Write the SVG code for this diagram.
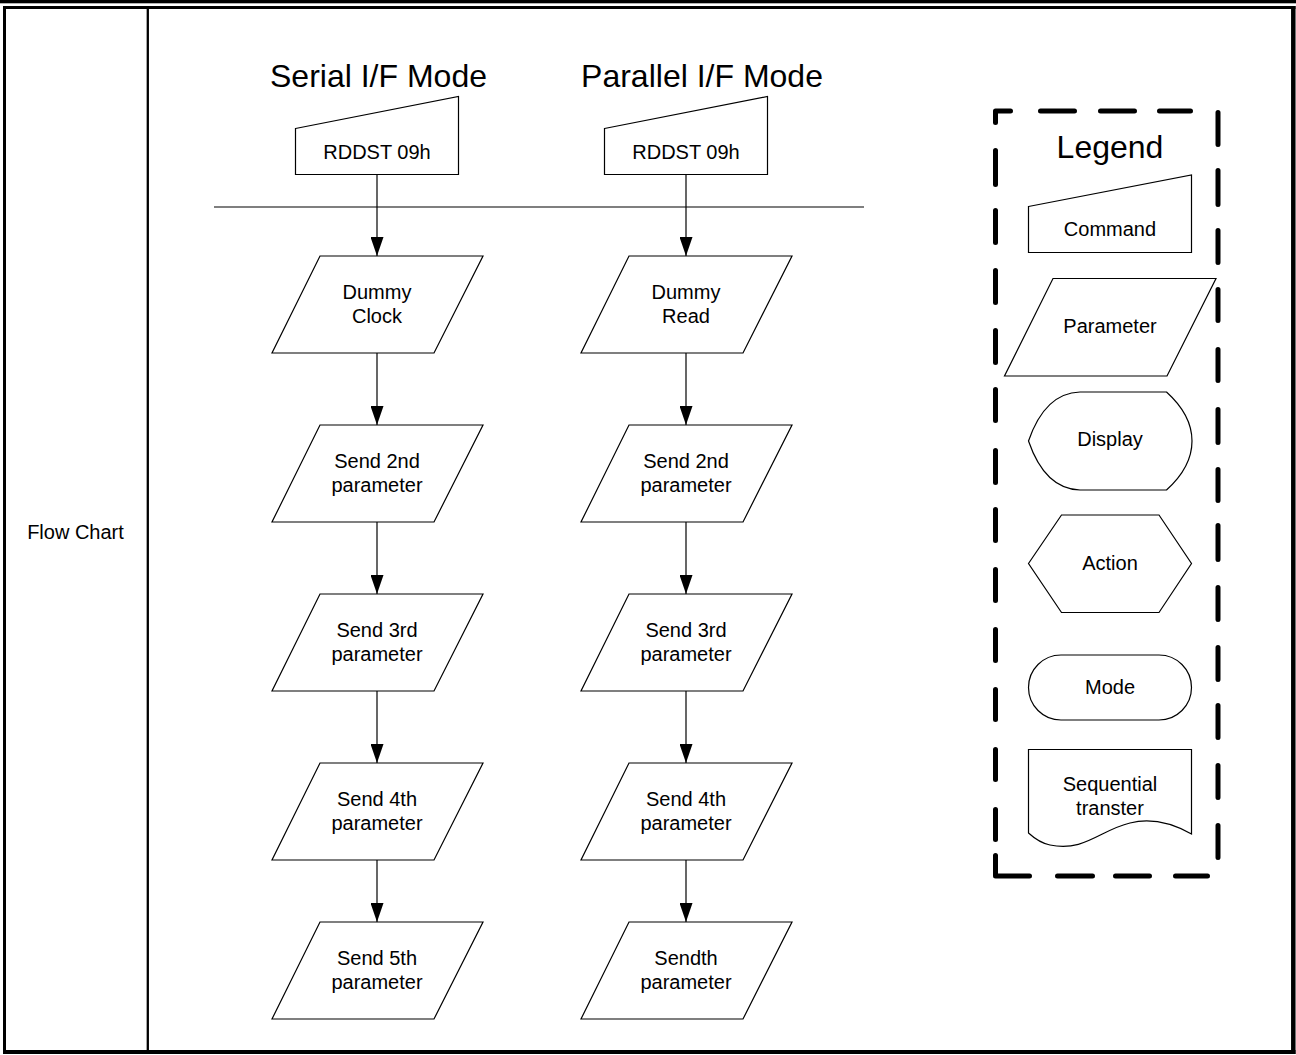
<svg xmlns="http://www.w3.org/2000/svg" width="1296" height="1055" viewBox="0 0 1296 1055">
<style>
.t{font-family:"Liberation Sans",Arial,sans-serif;font-size:20px;fill:#000;text-anchor:middle}
.h{font-family:"Liberation Sans",Arial,sans-serif;font-size:32px;fill:#000;text-anchor:middle}
.s{fill:#fff;stroke:#000;stroke-width:1.2}
.c{fill:none;stroke:#000;stroke-width:1.2}
</style>
<defs>
<marker id="ah" markerUnits="userSpaceOnUse" markerWidth="19" markerHeight="13" refX="19" refY="6.5" orient="auto">
<path d="M0,0 L19,6.5 L0,13 Z" fill="#000"/>
</marker>
</defs>
<rect width="1296" height="1055" fill="#fff"/>
<g id="frame">
<rect x="0" y="0" width="1296" height="3.3" fill="#000"/>
<line x1="4.5" y1="6" x2="4.5" y2="1054" stroke="#000" stroke-width="3"/>
<line x1="3" y1="7.6" x2="1295.5" y2="7.6" stroke="#000" stroke-width="3"/>
<line x1="1293.3" y1="6" x2="1293.3" y2="1054" stroke="#000" stroke-width="4.5"/>
<line x1="3" y1="1052" x2="1295.5" y2="1052" stroke="#000" stroke-width="4"/>
<line x1="147.8" y1="7" x2="147.8" y2="1052" stroke="#000" stroke-width="2.3"/>
<text class="t" x="75.5" y="539">Flow Chart</text>
</g>
<g id="titles">
<text class="h" x="378.5" y="87">Serial I/F Mode</text>
<text class="h" x="702" y="87">Parallel I/F Mode</text>
</g>
<g id="connectors">
<line class="c" x1="214" y1="207" x2="864" y2="207"/>
<line class="c" x1="377" y1="174.5" x2="377" y2="256" marker-end="url(#ah)"/>
<line class="c" x1="377" y1="353" x2="377" y2="425" marker-end="url(#ah)"/>
<line class="c" x1="377" y1="522" x2="377" y2="594" marker-end="url(#ah)"/>
<line class="c" x1="377" y1="691" x2="377" y2="763" marker-end="url(#ah)"/>
<line class="c" x1="377" y1="860" x2="377" y2="922" marker-end="url(#ah)"/>
<line class="c" x1="686" y1="174.5" x2="686" y2="256" marker-end="url(#ah)"/>
<line class="c" x1="686" y1="353" x2="686" y2="425" marker-end="url(#ah)"/>
<line class="c" x1="686" y1="522" x2="686" y2="594" marker-end="url(#ah)"/>
<line class="c" x1="686" y1="691" x2="686" y2="763" marker-end="url(#ah)"/>
<line class="c" x1="686" y1="860" x2="686" y2="922" marker-end="url(#ah)"/>
</g>
<g id="s-cmd">
<path class="s" d="M295.5,128.5 L458.5,96.5 L458.5,174.5 L295.5,174.5 Z"/>
<text class="t" x="377" y="159">RDDST 09h</text>
</g>
<g id="p-cmd">
<path class="s" d="M604.5,128.5 L767.5,96.5 L767.5,174.5 L604.5,174.5 Z"/>
<text class="t" x="686" y="159">RDDST 09h</text>
</g>
<g id="s-p1">
<path class="s" d="M320,256 L483,256 L434,353 L272,353 Z"/>
<text class="t" x="377" y="299">Dummy</text>
<text class="t" x="377" y="323">Clock</text>
</g>
<g id="s-p2">
<path class="s" d="M320,425 L483,425 L434,522 L272,522 Z"/>
<text class="t" x="377" y="468">Send 2nd</text>
<text class="t" x="377" y="492">parameter</text>
</g>
<g id="s-p3">
<path class="s" d="M320,594 L483,594 L434,691 L272,691 Z"/>
<text class="t" x="377" y="637">Send 3rd</text>
<text class="t" x="377" y="661">parameter</text>
</g>
<g id="s-p4">
<path class="s" d="M320,763 L483,763 L434,860 L272,860 Z"/>
<text class="t" x="377" y="806">Send 4th</text>
<text class="t" x="377" y="830">parameter</text>
</g>
<g id="s-p5">
<path class="s" d="M320,922 L483,922 L434,1019 L272,1019 Z"/>
<text class="t" x="377" y="965">Send 5th</text>
<text class="t" x="377" y="989">parameter</text>
</g>
<g id="p-p1">
<path class="s" d="M629,256 L792,256 L743,353 L581,353 Z"/>
<text class="t" x="686" y="299">Dummy</text>
<text class="t" x="686" y="323">Read</text>
</g>
<g id="p-p2">
<path class="s" d="M629,425 L792,425 L743,522 L581,522 Z"/>
<text class="t" x="686" y="468">Send 2nd</text>
<text class="t" x="686" y="492">parameter</text>
</g>
<g id="p-p3">
<path class="s" d="M629,594 L792,594 L743,691 L581,691 Z"/>
<text class="t" x="686" y="637">Send 3rd</text>
<text class="t" x="686" y="661">parameter</text>
</g>
<g id="p-p4">
<path class="s" d="M629,763 L792,763 L743,860 L581,860 Z"/>
<text class="t" x="686" y="806">Send 4th</text>
<text class="t" x="686" y="830">parameter</text>
</g>
<g id="p-p5">
<path class="s" d="M629,922 L792,922 L743,1019 L581,1019 Z"/>
<text class="t" x="686" y="965">Sendth</text>
<text class="t" x="686" y="989">parameter</text>
</g>
<g id="legend">
<path fill="none" stroke="#000" stroke-width="5" stroke-linecap="round" stroke-linejoin="round" d="
M995.5,122.5 L995.5,111 L1010.5,111
M1040.5,111 L1074.5,111 M1100.5,111 L1134.5,111 M1159.5,111 L1190.5,111
M995.5,150.5 L995.5,184.5 M995.5,210.5 L995.5,242.5 M995.5,270.5 L995.5,302.5 M995.5,330.5 L995.5,362.5
M995.5,389.5 L995.5,420.5 M995.5,450.5 L995.5,482.5 M995.5,509.5 L995.5,540.5 M995.5,569.5 L995.5,600.5
M995.5,629.5 L995.5,660.5 M995.5,689.5 L995.5,719.5 M995.5,749.5 L995.5,779.5 M995.5,809.5 L995.5,839.5
M995.5,855.5 L995.5,876 L1029.5,876
M1057.5,876 L1092.5,876 M1115.5,876 L1149.5,876 M1175.5,876 L1207.5,876
M1218,112.5 L1218,144.5 M1218,170.5 L1218,204.5 M1218,230.5 L1218,262.5 M1218,289.5 L1218,320.5
M1218,349.5 L1218,380.5 M1218,409.5 L1218,442.5 M1218,469.5 L1218,500.5 M1218,525.5 L1218,559.5
M1218,587.5 L1218,619.5 M1218,647.5 L1218,679.5 M1218,705.5 L1218,737.5 M1218,765.5 L1218,797.5
M1218,825.5 L1218,857.5"/>
<text class="h" x="1110" y="158">Legend</text>
</g>
<g id="lg-command">
<path class="s" d="M1028.5,206.5 L1191.5,175 L1191.5,252.5 L1028.5,252.5 Z"/>
<text class="t" x="1110" y="236">Command</text>
</g>
<g id="lg-parameter">
<path class="s" d="M1053,278.5 L1216,278.5 L1167,376 L1004.5,376 Z"/>
<text class="t" x="1110" y="333">Parameter</text>
</g>
<g id="lg-display">
<path class="s" d="M1028.5,441 Q1045,393 1080,392 L1166.5,392 Q1192,415 1192,441 Q1192,467 1166.5,490 L1080,490 Q1045,489 1028.5,441 Z"/>
<text class="t" x="1110" y="446">Display</text>
</g>
<g id="lg-action">
<path class="s" d="M1028.5,563.5 L1061.5,515 L1159,515 L1191.5,563.5 L1159,612.5 L1061.5,612.5 Z"/>
<text class="t" x="1110" y="570">Action</text>
</g>
<g id="lg-mode">
<rect class="s" x="1028.5" y="655" width="163" height="65" rx="32.5" ry="32.5"/>
<text class="t" x="1110" y="694">Mode</text>
</g>
<g id="lg-seq">
<path class="s" d="M1028.5,749.5 L1191.5,749.5 L1191.5,834 C1170,822 1150,818 1130,823 C1100,830 1085,852 1050,845 C1040,843 1034,838 1028.5,833 Z"/>
<text class="t" x="1110" y="791">Sequential</text>
<text class="t" x="1110" y="815">transter</text>
</g>
</svg>
